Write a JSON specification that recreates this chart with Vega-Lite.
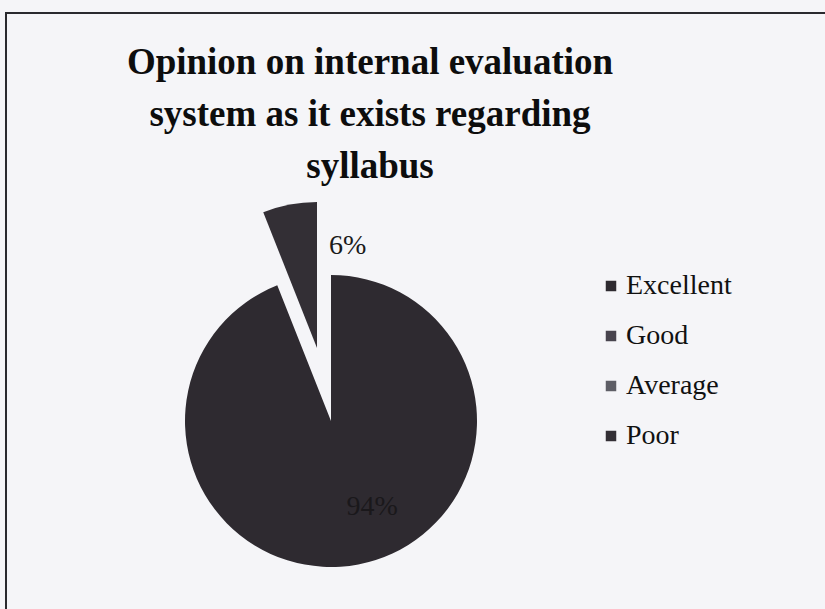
{
  "$schema": "https://vega.github.io/schema/vega-lite/v6.json",
  "autosize": {"type": "none"},
  "width": 834,
  "height": 599,
  "padding": {"left": 6, "top": 13, "right": -3, "bottom": -3},
  "background": "#f5f5f8",
  "view": {"stroke": "#2a2a2e", "strokeWidth": 2, "fill": "#f5f5f8"},
  "config": {
    "view": {"stroke": "#2a2a2e", "strokeWidth": 2},
    "font": "Liberation Serif"
  },
  "title": {
    "text": ["Opinion on internal evaluation", "system as it exists regarding", "syllabus"],
    "font": "Liberation Serif",
    "fontSize": 37,
    "fontWeight": "bold",
    "color": "#0d0d0d",
    "lineHeight": 52,
    "anchor": "middle",
    "frame": "group",
    "orient": "top",
    "baseline": "top",
    "offset": 0,
    "dx": -53,
    "dy": 173
  },
  "data": {
    "values": [
      {"category": "Excellent", "share": 0.94},
      {"category": "Good", "share": 0},
      {"category": "Average", "share": 0},
      {"category": "Poor", "share": 0.06}
    ]
  },
  "encoding": {
    "theta": {"field": "share", "type": "quantitative", "stack": true},
    "color": {
      "field": "category",
      "type": "nominal",
      "scale": {
        "domain": ["Excellent", "Good", "Average", "Poor"],
        "range": ["#2e2a30", "#48444e", "#5e5e66", "#332f35"]
      },
      "legend": {
        "orient": "none",
        "legendX": 591,
        "legendY": 259,
        "title": null,
        "symbolType": "square",
        "symbolSize": 110,
        "symbolStrokeWidth": 0,
        "symbolOpacity": 1,
        "labelFont": "Liberation Serif",
        "labelFontSize": 28,
        "labelColor": "#111111",
        "labelOffset": 1,
        "rowPadding": 22
      }
    }
  },
  "layer": [
    {
      "mark": {"type": "arc", "radius": 146, "x": 325, "y": 408},
      "encoding": {
        "fillOpacity": {"condition": {"test": "datum.category === 'Poor'", "value": 0}, "value": 1}
      }
    },
    {
      "mark": {"type": "arc", "radius": 146, "x": 311, "y": 335},
      "encoding": {
        "fillOpacity": {"condition": {"test": "datum.category === 'Poor'", "value": 1}, "value": 0}
      }
    },
    {
      "mark": {"type": "text", "radius": 100, "x": 325, "y": 408, "dx": 60, "dy": -12, "fontSize": 28, "font": "Liberation Serif", "baseline": "middle", "align": "center"},
      "encoding": {
        "text": {"field": "share", "type": "quantitative", "format": ".0%"},
        "color": {"value": "#1a181b"},
        "opacity": {"condition": {"test": "datum.category === 'Excellent'", "value": 1}, "value": 0}
      }
    },
    {
      "mark": {"type": "text", "radius": 100, "x": 311, "y": 335, "dx": 12, "dy": -4, "fontSize": 28, "font": "Liberation Serif", "baseline": "middle", "align": "center"},
      "encoding": {
        "text": {"field": "share", "type": "quantitative", "format": ".0%"},
        "color": {"value": "#1a1a1a"},
        "opacity": {"condition": {"test": "datum.category === 'Poor'", "value": 1}, "value": 0}
      }
    }
  ]
}
